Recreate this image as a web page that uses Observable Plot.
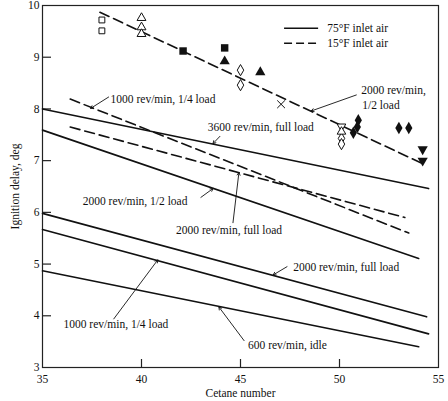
<!DOCTYPE html>
<html><head><meta charset="utf-8">
<script src="https://cdn.jsdelivr.net/npm/d3@7"></script>
<script src="https://cdn.jsdelivr.net/npm/@observablehq/plot@0.6"></script>
<style>body{margin:0;background:#fff}</style>
</head><body><div id="chart"></div>
<script>
// ---- axis ticks ----
const xTicks = [35, 40, 45, 50, 55];
const yTicks = [3, 4, 5, 6, 7, 8, 9, 10];

// ---- 75°F inlet air (solid) curves ----
const s3600FullX = [35, 54.5],    s3600FullY = [8.0, 6.46];
const s2000HalfX = [35, 54.0],    s2000HalfY = [7.59, 5.11];
const s2000FullX = [35, 54.4],    s2000FullY = [5.98, 3.98];
const s1000QuarterX = [35, 54.5], s1000QuarterY = [5.67, 3.65];
const s600IdleX = [35, 54.0],     s600IdleY = [4.87, 3.40];

// ---- 15°F inlet air (dashed) curves ----
const d2000HalfX = [37.9, 54.15],    d2000HalfY = [9.87, 6.95];
const d1000QuarterX = [36.4, 53.5],  d1000QuarterY = [8.19, 5.6];
const d2000FullX = [36.4, 53.3],     d2000FullY = [7.65, 5.9];

// ---- measured points ----
const openSquareX = [38.0, 38.0],            openSquareY = [9.72, 9.51];
const openTriX = [40.0, 40.0, 40.0],         openTriY = [9.76, 9.58, 9.45];
const filledSquareX = [42.1, 44.2],          filledSquareY = [9.12, 9.18];
const filledTriX = [44.2, 46.0],             filledTriY = [8.92, 8.71];
const openDiamondX = [45.0, 45.0, 50.1, 50.1], openDiamondY = [8.75, 8.46, 7.43, 7.32];
const crossX = [47.05],                      crossY = [8.09];
const openTriDownX = [50.1],                 openTriDownY = [7.66];
const openTriUpX = [50.1],                   openTriUpY = [7.56];
const filledDiamondX = [50.95, 50.9, 50.7, 53.0, 53.5], filledDiamondY = [7.78, 7.65, 7.54, 7.63, 7.63];
const filledTriDownX = [54.2, 54.2],         filledTriDownY = [7.22, 7.0];

// ---- annotations ----
const noteText = ["1000 rev/min, 1/4 load", "3600 rev/min, full load", "2000 rev/min, 1/2 load",
  "2000 rev/min, full load", "2000 rev/min, full load", "1000 rev/min, 1/4 load",
  "600 rev/min, idle", "2000 rev/min,", "1/2 load"];
const noteX = [38.44, 43.35, 37.03, 44.42, 47.66, 36.06, 45.38, 51.1, 51.15];
const noteY = [8.19, 7.65, 6.21, 5.65, 4.93, 3.83, 3.42, 8.36, 8.07];
const noteAnchor = ["start", "start", "start", "middle", "start", "start", "start", "start", "start"];

const leaderX1 = [38.34, 43.96, 43.0, 44.62, 47.35, 38.6, 45.18, 50.85];
const leaderY1 = [8.23, 7.47, 6.29, 5.80, 4.95, 3.94, 3.52, 8.27];
const leaderX2 = [37.43, 43.61, 43.61, 44.92, 46.65, 40.82, 43.91, 48.57];
const leaderY2 = [8.01, 7.33, 6.46, 6.77, 4.79, 5.08, 4.17, 7.96];

// ---- legend ----
const legendLabels = ["75°F inlet air", "15°F inlet air"];
const legendDash = ["none", "10,5"];
const legendY = [9.56, 9.27];
const legendX1 = [47.2, 47.2], legendX2 = [48.92, 48.92], legendTextX = [49.38, 49.38];

// ---- build tables ----
const curves = [
  [s3600FullX, s3600FullY, "solid"], [s2000HalfX, s2000HalfY, "solid"],
  [s2000FullX, s2000FullY, "solid"], [s1000QuarterX, s1000QuarterY, "solid"],
  [s600IdleX, s600IdleY, "solid"],
  [d2000HalfX, d2000HalfY, "dashed"], [d1000QuarterX, d1000QuarterY, "dashed"],
  [d2000FullX, d2000FullY, "dashed"]
];
const rows = [];
curves.forEach(([xs, ys, kind], k) => xs.forEach((x, i) => rows.push({id: k, kind, x, y: ys[i]})));
const zip = (xs, ys) => xs.map((x, i) => ({x, y: ys[i]}));
const notes = noteText.map((t, i) => ({t, x: noteX[i], y: noteY[i], a: noteAnchor[i]}));
const leaders = leaderX1.map((x1, i) => ({x1, y1: leaderY1[i], x2: leaderX2[i], y2: leaderY2[i]}));
const legend = legendLabels.map((t, i) => ({t, dash: legendDash[i], y: legendY[i], x1: legendX1[i], x2: legendX2[i], tx: legendTextX[i]}));

const W = 448, H = 401, mL = 42, mR = 10, mT = 5, mB = 34;
const font = "Liberation Serif, Times New Roman, serif";
const fs = 11.5;
const sw = 1.6;

const chart = Plot.plot({
  width: W, height: H,
  marginLeft: mL, marginRight: mR, marginTop: mT, marginBottom: mB,
  style: {fontFamily: font, fontSize: fs + "px", background: "#fff", color: "#111"},
  x: {domain: [35, 55]},
  y: {domain: [3, 10]},
  marks: [
    Plot.frame({stroke: "#222", strokeWidth: 1.2}),
    Plot.axisX(xTicks, {tickSize: 0, tickPadding: 7, label: null, fontSize: fs, tickFormat: d3.format("d")}),
    Plot.axisY(yTicks, {tickSize: 0, tickPadding: 3, label: null, fontSize: fs, tickFormat: d3.format("d")}),
    Plot.tickY(yTicks.slice(1, -1), {y: d => d, insetRight: W - mL - mR - 9, stroke: "#222", strokeWidth: 1.2}),
    Plot.tickX(xTicks.slice(1, -1), {x: d => d, insetTop: H - mT - mB - 8, stroke: "#222", strokeWidth: 1.2}),
    Plot.text(["Ignition delay, deg"], {frameAnchor: "left", dx: -27, rotate: -90, fontSize: fs, textAnchor: "middle"}),
    Plot.text(["Cetane number"], {frameAnchor: "bottom", dy: 29, fontSize: fs, textAnchor: "middle"}),
    Plot.line(rows.filter(d => d.kind === "solid"), {x: "x", y: "y", z: "id", stroke: "#111", strokeWidth: sw}),
    Plot.line(rows.filter(d => d.kind === "dashed"), {x: "x", y: "y", z: "id", stroke: "#111", strokeWidth: sw, strokeDasharray: "10,5"}),
    Plot.arrow(leaders, {x1: "x1", y1: "y1", x2: "x2", y2: "y2", stroke: "#111", strokeWidth: 0.9, headLength: 5}),
    Plot.text(notes.filter(d => d.a === "start"), {x: "x", y: "y", text: "t", textAnchor: "start", fontSize: fs, fill: "#111"}),
    Plot.text(notes.filter(d => d.a === "middle"), {x: "x", y: "y", text: "t", textAnchor: "middle", fontSize: fs, fill: "#111"}),
    Plot.link(legend.filter(d => d.dash === "none"), {x1: "x1", x2: "x2", y1: "y", y2: "y", stroke: "#111", strokeWidth: sw}),
    Plot.link(legend.filter(d => d.dash !== "none"), {x1: "x1", x2: "x2", y1: "y", y2: "y", stroke: "#111", strokeWidth: sw, strokeDasharray: "8,4"}),
    Plot.text(legend, {x: "tx", y: "y", text: "t", textAnchor: "start", fontSize: fs, fill: "#111"}),
    // markers
    Plot.dot(zip(openSquareX, openSquareY), {x: "x", y: "y", symbol: "square", r: 3.3, stroke: "#111", fill: "#fff", strokeWidth: 1}),
    Plot.dot(zip(openTriX, openTriY), {x: "x", y: "y", symbol: "triangle", r: 3.3, stroke: "#111", fill: "#fff", strokeWidth: 1}),
    Plot.dot(zip(filledSquareX, filledSquareY), {x: "x", y: "y", symbol: "square", r: 4.2, fill: "#111", stroke: "none"}),
    Plot.dot(zip(filledTriX, filledTriY), {x: "x", y: "y", symbol: "triangle", r: 3.8, fill: "#111", stroke: "none"}),
    Plot.dot(zip(openDiamondX, openDiamondY), {x: "x", y: "y", symbol: "diamond", r: 3.4, stroke: "#111", fill: "#fff", strokeWidth: 1}),
    Plot.dot(zip(crossX, crossY), {x: "x", y: "y", symbol: "times", r: 3.6, stroke: "#111", strokeWidth: 1}),
    Plot.dot(zip(openTriDownX, openTriDownY), {x: "x", y: "y", symbol: "triangle", rotate: 180, r: 3.2, stroke: "#111", fill: "#fff", strokeWidth: 1}),
    Plot.dot(zip(openTriUpX, openTriUpY), {x: "x", y: "y", symbol: "triangle", r: 3.2, stroke: "#111", fill: "#fff", strokeWidth: 1}),
    Plot.dot(zip(filledDiamondX, filledDiamondY), {x: "x", y: "y", symbol: "diamond", r: 3.8, fill: "#111", stroke: "none"}),
    Plot.dot(zip(filledTriDownX, filledTriDownY), {x: "x", y: "y", symbol: "triangle", rotate: 180, r: 3.8, fill: "#111", stroke: "none"})
  ]
});
document.getElementById("chart").appendChild(chart);
</script>
</body></html>
